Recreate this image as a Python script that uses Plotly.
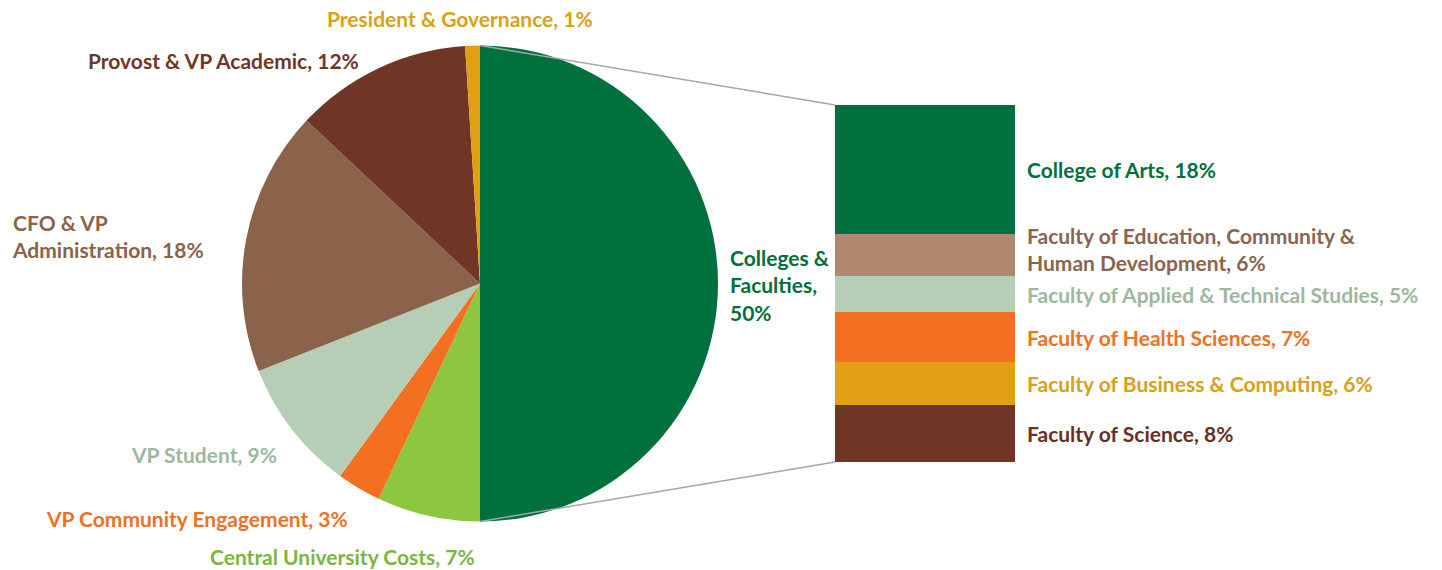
import plotly.graph_objects as go

# ---------------- data ----------------
pie_labels = ["Colleges &<br>Faculties", "Central University Costs", "VP Community Engagement",
              "VP Student", "CFO & VP<br>Administration", "Provost & VP Academic",
              "President & Governance"]
pie_values = [50, 7, 3, 9, 18, 12, 1]

bar_labels = ["College of Arts", "Faculty of Education, Community &<br>Human Development",
              "Faculty of Applied & Technical Studies", "Faculty of Health Sciences",
              "Faculty of Business & Computing", "Faculty of Science"]
bar_values = [18, 6, 5, 7, 6, 8]

# ---------------- styles ----------------
pie_colors = ["#00703C", "#8DC63F", "#F37021", "#B6CDB6", "#8B624A", "#713526", "#E1A014"]
pie_text_colors = ["#00703C", "#7DB53F", "#F07024", "#9DB89D", "#8B624A", "#713526", "#D9A01A"]
pie_label_sep = [",<br>", ", ", ", ", ", ", ", ", ", ", ", "]
bar_colors = ["#00703C", "#B08870", "#B6CDB6", "#F37021", "#E1A014", "#713526"]
bar_text_colors = ["#00703C", "#8B6450", "#9DB89D", "#F07024", "#D9A01A", "#6B2E22"]
bar_label_yshift = [0, 6, 0, 0, 0, 0]

W, H = 1442, 570
FONT = "Lato, Open Sans, sans-serif"
FS = 21

# pie geometry (pixels)
pie_cx, pie_cy, pie_r = 480, 283.5, 238
# bar geometry (pixels)
bar_x0, bar_x1, bar_y0, bar_y1 = 835, 1015, 105, 462

def px(x):
    return x / W

def py(y):
    return 1 - y / H

fig = go.Figure()

fig.add_trace(go.Pie(
    labels=pie_labels, values=pie_values, sort=False, direction="clockwise", rotation=0,
    marker=dict(colors=pie_colors, line=dict(width=0)),
    textinfo="none", hoverinfo="label+percent", showlegend=False,
    domain=dict(x=[px(pie_cx - pie_r), px(pie_cx + pie_r)],
                y=[py(pie_cy + pie_r), py(pie_cy - pie_r)]),
))

# stacked bar: bottom first
for lab, val, col in reversed(list(zip(bar_labels, bar_values, bar_colors))):
    fig.add_trace(go.Bar(x=[0], y=[val], marker=dict(color=col, line=dict(width=0)),
                         name=lab, showlegend=False, hoverinfo="name+y"))

total_bar = sum(bar_values)

# pie label annotations: (x px, y px, xanchor)
pie_label_pos = [(728, 285, "left"), (342, 556, "center"), (197, 518, "center"),
                 (204, 454, "center"), (10, 236, "left"), (224, 60, "center"),
                 (460, 19, "center")]
annotations = []
tot = sum(pie_values)
for lab, val, col, sep, (x, y, xa) in zip(pie_labels, pie_values, pie_text_colors,
                                         pie_label_sep, pie_label_pos):
    pct = round(100 * val / tot)
    annotations.append(dict(
        text=f"{lab}{sep}{pct}%", x=px(x), y=py(y), xref="paper", yref="paper",
        xanchor=xa, yanchor="middle", align="left", showarrow=False,
        font=dict(family=FONT, size=FS, color=col, weight="bold")))

# bar label annotations at segment centres
cum = total_bar
for lab, val, col, ys in zip(bar_labels, bar_values, bar_text_colors, bar_label_yshift):
    center = cum - val / 2
    cum -= val
    pct = round(100 * val / tot)
    annotations.append(dict(
        text=f"{lab}, {pct}%", x=px(bar_x1 + 10), y=center, xref="paper", yref="y",
        xanchor="left", yanchor="middle", align="left", showarrow=False, yshift=ys,
        font=dict(family=FONT, size=FS, color=col, weight="bold")))

# connector lines from pie top/bottom to bar corners
shapes = [
    dict(type="line", xref="paper", yref="paper",
         x0=px(pie_cx), y0=py(pie_cy - pie_r), x1=px(bar_x0), y1=py(bar_y0),
         line=dict(color="#A6A6A6", width=1.5)),
    dict(type="line", xref="paper", yref="paper",
         x0=px(pie_cx), y0=py(pie_cy + pie_r), x1=px(bar_x0), y1=py(bar_y1),
         line=dict(color="#A6A6A6", width=1.5)),
]

fig.update_layout(
    width=W, height=H, margin=dict(l=0, r=0, t=0, b=0),
    paper_bgcolor="white", plot_bgcolor="white",
    barmode="stack", bargap=0,
    xaxis=dict(domain=[px(bar_x0), px(bar_x1)], range=[-0.5, 0.5], visible=False, fixedrange=True),
    yaxis=dict(domain=[py(bar_y1), py(bar_y0)], range=[0, total_bar], visible=False, fixedrange=True),
    annotations=annotations, shapes=shapes,
)

fig.write_html("out.html")
